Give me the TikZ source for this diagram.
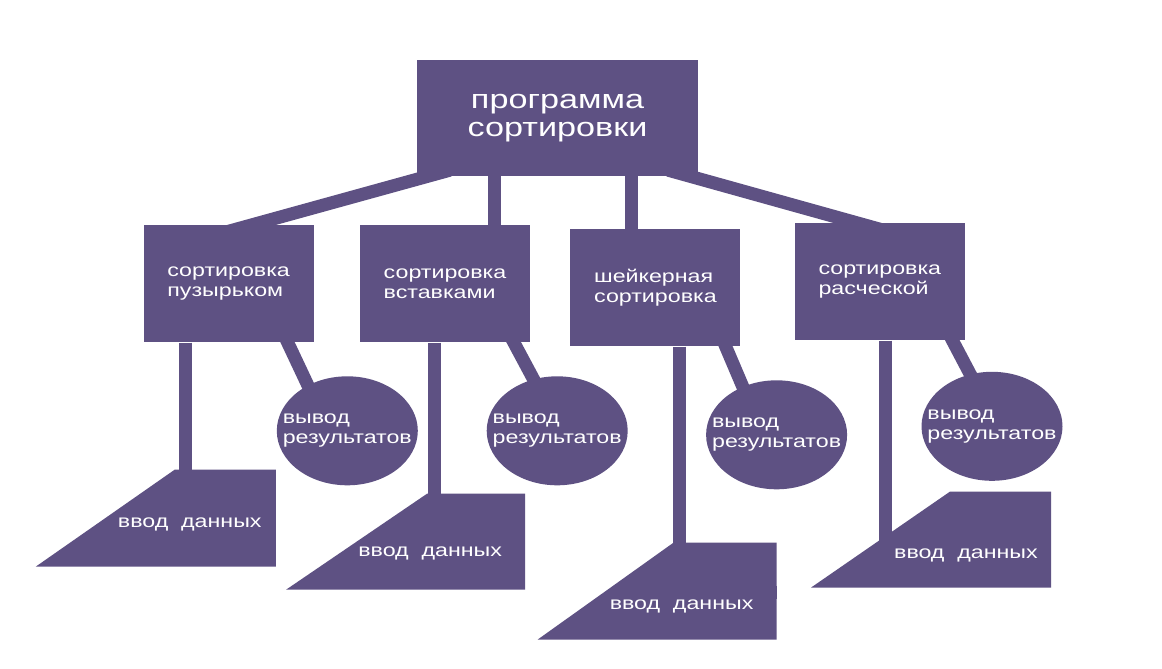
\documentclass[tikz,border=0pt]{standalone}
\usepackage{fontspec}
\setmainfont{Liberation Sans}[FakeStretch=1.29]
\usepackage{tikz}
\usetikzlibrary{positioning, shapes.geometric, backgrounds}
\definecolor{plum}{RGB}{94,81,131}

\begin{document}
\begin{tikzpicture}[x=1pt, y=-1pt,
      head/.style={rectangle, fill=plum, text=white, align=center, font=\fontsize{26.5}{28}\selectfont, minimum width=281pt, minimum height=116pt, inner sep=0pt},
      box/.style={rectangle, fill=plum, text=white, align=left, font=\fontsize{18}{20}\selectfont, minimum width=170pt, minimum height=117pt, inner sep=0pt},
      outc/.style={ellipse, fill=plum, text=white, align=left, font=\fontsize{18}{20}\selectfont, minimum width=141pt, minimum height=109pt, inner xsep=-15pt, inner ysep=0pt},
      txt/.style={text=white, font=\fontsize{18}{20}\selectfont},
      link/.style={plum, line width=13pt}]
    \useasboundingbox (0,0) rectangle (1162,669);
    \node[head] (prog) at (557.5,118) {программа\\сортировки};
    \node[box, below left=49pt and 103pt of prog] (b1) {сортировка\\пузырьком};
    \node[box, right=46pt of b1] (b2) {сортировка\\вставками};
    \node[box, right=40pt of b2, yshift=-4pt] (b3) {шейкерная\\сортировка};
    \node[box, right=54pt of b3, yshift=6pt] (b4) {сортировка\\расческой};
    \node[outc, below=33.5pt of b1.south east, xshift=33.5pt] (c1) {вывод\\результатов};
    \node[outc, below=33.5pt of b2.south east, xshift=27pt] (c2) {вывод\\результатов};
    \node[outc, below=33.5pt of b3.south east, xshift=36pt] (c3) {вывод\\результатов};
    \node[outc, below=31pt of b4.south east, xshift=27pt] (c4) {вывод\\результатов};
    % input blocks, by their top right corner
    \coordinate[below=127pt of b1.south east, xshift=-38pt] (t1);
    \coordinate[below=151pt of b2.south east, xshift=-5pt] (t2);
    \coordinate[below=196pt of b3.south east, xshift=36pt] (t3);
    \coordinate[below=151pt of b4.south east, xshift=86pt] (t4);
    \fill[plum] (t1) -- ++(0,97) -- ++(-240,0) -- ++(139,-97) -- cycle;
    \fill[plum] (t2) -- ++(0,96) -- ++(-239,0) -- ++(141,-96) -- cycle;
    \fill[plum] (t3) -- ++(0,97) -- ++(-239,0) -- ++(136,-97) -- cycle;
    \fill[plum] (t4) -- ++(0,96) -- ++(-240,0) -- ++(139,-96) -- cycle;
    \node[txt] (in1) at ([shift={(-86,55)}]t1) {ввод\ \ данных};
    \node[txt] (in2) at ([shift={(-95,60)}]t2) {ввод\ \ данных};
    \node[txt] (in3) at ([shift={(-95,64)}]t3) {ввод\ \ данных};
    \node[txt] (in4) at ([shift={(-85,64)}]t4) {ввод\ \ данных};
    \begin{scope}[on background layer]
      \fill[white] (0,0) rectangle (1162,669);
      % from the top box
      \draw[link] ([shift={(33,-6)}]prog.south west) -- ([shift={(71,10)}]b1.north west);
      \draw[link] ([xshift=134.5pt]b2.north west) |- (prog.center);
      \draw[link] ([xshift=61pt]b3.north west) |- (prog.center);
      \draw[link] ([shift={(-30,-6)}]prog.south east) -- ([shift={(96,9)}]b4.north west);
      % to the outputs
      \draw[link] ([shift={(-35.5,-20)}]b1.south east) -- ([shift={(-32,25)}]c1.north);
      \draw[link] ([shift={(-27,-20)}]b2.south east) -- ([shift={(-12,25)}]c2.north);
      \draw[link] ([shift={(-23.4,-20)}]b3.south east) -- ([shift={(-26,25)}]c3.north);
      \draw[link] ([shift={(-23,-20)}]b4.south east) -- ([shift={(-10,25)}]c4.north);
      % to the inputs
      \draw[link] ([xshift=42.5pt]b1.south west) |- ([yshift=-50pt]t1);
      \draw[link] ([xshift=75pt]b2.south west) |- ([yshift=-50pt]t2);
      \draw[link] ([xshift=109.5pt]b3.south west) |- ([yshift=-50pt]t3);
      \draw[link] ([xshift=90.5pt]b4.south west) |- ([yshift=-50pt]t4);
    \end{scope}
  \end{tikzpicture}
\end{document}
